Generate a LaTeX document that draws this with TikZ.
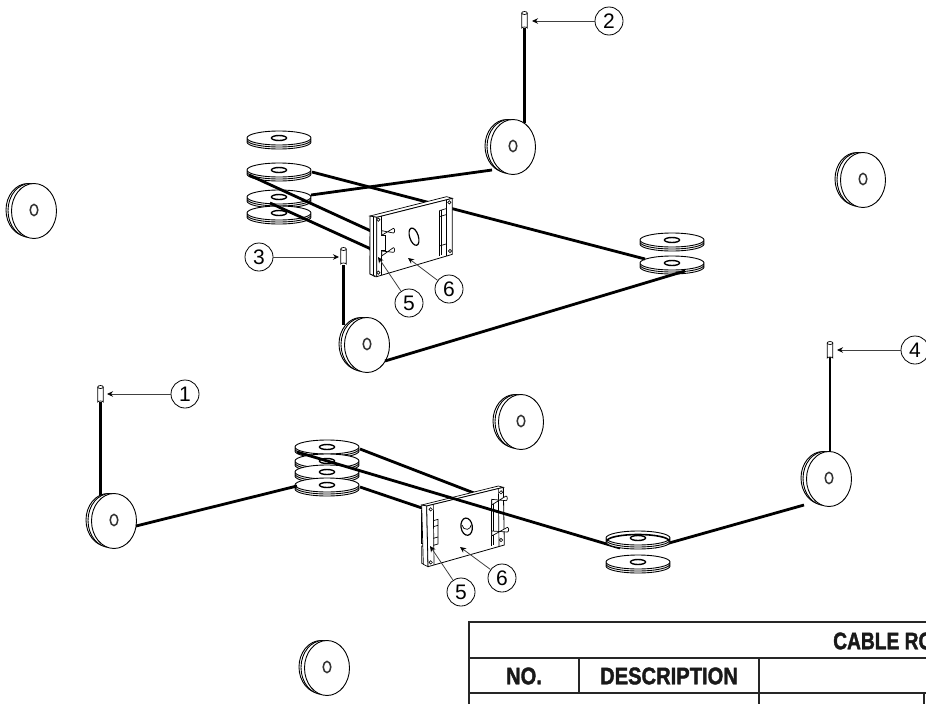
\documentclass[tikz,border=0pt]{standalone}
\usepackage{fontspec}
\usepackage{graphicx}
\setmainfont{Liberation Sans}
\newfontfamily\headfont[BoldFeatures={FakeBold=1.8}]{Liberation Sans}
\usetikzlibrary{arrows.meta}
\tikzset{
  thin line/.style={draw=black,line width=0.7pt},
  wheel/.style={draw=black,fill=white,line width=0.9pt},
  cable/.style={draw=black,line width=2.8pt},
  pincable/.style={draw=black,line width=2.3pt},
  callout/.style={circle,draw=black,line width=0.8pt,fill=white,minimum size=28pt,inner sep=0pt,font=\fontsize{21}{21}\selectfont},
  lead/.style={draw=black!75,line width=0.8pt,-{Stealth[length=6pt,width=5.5pt,black]}},
  tablerule/.style={draw=black!85,line width=1.6pt},
  headtext/.style={font=\headfont\fontsize{24}{24}\selectfont\bfseries,inner sep=0pt,text=black!90},
}
% vertical pulley seen from the front
\newcommand{\vpulley}[2]{%
  \begin{scope}[shift={(#1,#2)}]
    \draw[wheel] (-6,-1) ellipse [x radius=22,y radius=26.5];
    \draw[wheel] (-4,-0.5) ellipse [x radius=22,y radius=27];
    \draw[wheel] (0,0) ellipse [x radius=22.5,y radius=27.5];
    \draw[wheel,draw=black!80,line width=1.5pt] (0,-1) ellipse [x radius=3.8,y radius=5.6];
  \end{scope}}
% horizontal pulley lying flat
\newcommand{\hpulley}[2]{%
  \begin{scope}[shift={(#1,#2)}]
    \draw[wheel] (0,4) ellipse [x radius=32,y radius=7];
    \draw[wheel] (0,2) ellipse [x radius=32,y radius=7];
    \draw[wheel] (0,0) ellipse [x radius=32,y radius=7];
    \draw[wheel,line width=1.4pt] (0,0) ellipse [x radius=7.5,y radius=2.5];
  \end{scope}}
% cable end fitting
\newcommand{\cablepin}[2]{%
  \begin{scope}[shift={(#1,#2)}]
    \draw[wheel,line width=0.7pt] (-2.8,0) -- (-2.8,15) arc [start angle=180,end angle=360,x radius=2.8,y radius=1] -- (2.8,0);
    \draw[wheel,line width=0.7pt] (0,0) ellipse [x radius=2.8,y radius=1.5];
  \end{scope}}
\begin{document}
\begin{tikzpicture}[x=1pt,y=-1pt]
\useasboundingbox (0,0) rectangle (926,704);
\clip (0,0) rectangle (926,704);

% named cable end points
\coordinate (pinBtm2) at (524.5,28);   \coordinate (whl2top) at (524.5,123);
\coordinate (whl2out) at (492,170);    \coordinate (upRb) at (311,195);
\coordinate (upA) at (312,172);        \coordinate (upB) at (645,259);
\coordinate (upC) at (249,175);        \coordinate (upD) at (371,231);
\coordinate (upE) at (270,203);        \coordinate (upF) at (371,249);
\coordinate (pinBtm3) at (343.5,265);  \coordinate (whl3top) at (343.5,325);
\coordinate (whl3out) at (385,361);    \coordinate (rightOut) at (685,271);
\coordinate (pinBtm1) at (100.5,402);  \coordinate (whl1top) at (100.5,498);
\coordinate (whl1out) at (136,526);    \coordinate (stackIn) at (297,486);
\coordinate (loA) at (360,449);        \coordinate (loB) at (474,493);
\coordinate (loC) at (297,452);        \coordinate (loD) at (620,548);
\coordinate (loE) at (360,487);        \coordinate (loF) at (422,508);
\coordinate (flatOut) at (655,547);    \coordinate (whl4out) at (804,505);
\coordinate (pinBtm4) at (830,357);    \coordinate (whl4top) at (830,454);

% free pulleys
\vpulley{34}{211}
\vpulley{863}{180}
\vpulley{521}{422}
\vpulley{327}{668}

% ---------- upper assembly ----------
\draw[pincable] (pinBtm2) -- (whl2top);
\draw[pincable] (pinBtm3) -- (whl3top);
\hpulley{279}{138}
\hpulley{279}{170}
\hpulley{279}{197}
\hpulley{279}{213}
\hpulley{672}{240}
\hpulley{672}{263}
\vpulley{513}{147}
\vpulley{367}{345}
\draw[cable] (whl2out) -- (upRb);
\draw[cable] (upA) -- (upB);
\draw[cable] (upC) -- (upD);
\draw[cable] (upE) -- (upF);
\draw[cable] (whl3out) -- (rightOut);
\cablepin{524.5}{13}
\cablepin{343.5}{249}

% upper plate (drawn in enlarged units)
\begin{scope}[shift={(220,120)},scale=1/3]
  \draw[wheel,line width=0.7pt] (450,350) -- (465,345) -- (465,392) -- (450,392) -- cycle;
  \draw[wheel,line width=0.7pt] (450,408) -- (465,408) -- (465,470) -- (450,462) -- cycle;
  \draw[wheel,line width=0.7pt] (450,288) -- (680,230) -- (697,235) -- (470,292) -- cycle;
  \draw[wheel,line width=0.7pt] (450,288) -- (470,292) -- (470,470) -- (450,462) -- cycle;
  \draw[wheel,line width=0.8pt] (470,292) -- (697,235) -- (697,403) -- (470,470) -- cycle;
  \draw[thin line] (460,290) -- (460,466);
  \draw[thin line] (483,289) -- (483,465);
  \draw[thin line] (678,240) -- (678,408);
  % right bracket
  \draw[thin line] (658,272) -- (678,266);
  \draw[thin line] (658,272) -- (658,407);
  \draw[thin line] (664,271) -- (664,405);
  \draw[thin line] (658,290) -- (678,284);
  \draw[thin line] (658,378) -- (678,372);
  % studs
  \draw[wheel,line width=0.7pt] (483,345) -- (497,345) -- (497,392) -- (483,392);
  \draw[wheel,line width=0.7pt] (485,332) -- (520,339) arc [start angle=90,end angle=-90,x radius=4,y radius=7] -- (485,346) -- cycle;
  \draw[wheel,line width=0.7pt] (485,393) -- (520,397) arc [start angle=90,end angle=-90,x radius=4,y radius=7] -- (485,408) -- cycle;
  % holes
  \foreach \hx/\hy in {475/299,475/458,688/247,690/393}
    \draw[wheel,line width=0.6pt] (\hx,\hy) circle [radius=5];
  \draw[wheel,line width=1.2pt,rotate around={18:(582,350)}] (582,350) ellipse [x radius=13,y radius=27];
\end{scope}

% ---------- lower assembly ----------
\draw[pincable] (pinBtm1) -- (whl1top);
\draw[pincable] (pinBtm4) -- (whl4top);
\hpulley{327}{447}
\hpulley{327}{461}
\hpulley{327}{472}
\hpulley{327}{485}
\vpulley{114}{521}
\vpulley{829}{479}
\draw[cable] (whl1out) -- (stackIn);
\draw[cable] (flatOut) -- (whl4out);
\draw[cable] (loA) -- (loB);
\draw[cable] (loE) -- (loF);
\cablepin{100.5}{387}
\cablepin{830}{343}

% lower plate (drawn in enlarged units)
\begin{scope}[shift={(270,430)},scale=1/3]
  \draw[wheel,line width=0.7pt] (455,240) -- (468,240) -- (468,285) -- (455,285) -- cycle;
  \draw[wheel,line width=0.7pt] (455,290) -- (468,290) -- (468,340) -- (455,340) -- cycle;
  \draw[wheel,line width=0.7pt] (455,348) -- (468,348) -- (468,405) -- (455,400) -- cycle;
  \draw[wheel,line width=0.7pt] (455,225) -- (685,168) -- (700,172) -- (470,228) -- cycle;
  \draw[wheel,line width=0.7pt] (455,225) -- (470,228) -- (474,410) -- (460,403) -- cycle;
  \draw[wheel,line width=0.8pt] (470,228) -- (700,172) -- (703,345) -- (474,410) -- cycle;
  \draw[thin line] (490,224) -- (492,405);
  \draw[thin line] (685,176) -- (687,349);
  % middle bracket
  \draw[thin line] (490,272) -- (504,268) -- (504,342) -- (490,346);
  \draw[thin line] (490,290) -- (504,286);
  \draw[thin line] (490,325) -- (504,321);
  % right bracket and studs
  \draw[thin line] (665,210) -- (665,347);
  \draw[thin line] (670,210) -- (670,346);
  \draw[wheel,line width=0.7pt] (665,208) -- (708,212) arc [start angle=90,end angle=-90,x radius=4,y radius=7] -- (665,225) -- cycle;
  \draw[wheel,line width=0.7pt] (665,303) -- (712,306) arc [start angle=90,end angle=-90,x radius=4,y radius=7] -- (665,318) -- cycle;
  % holes
  \foreach \hx/\hy in {482/238,482/397,693/187,693/330}
    \draw[wheel,line width=0.6pt] (\hx,\hy) circle [radius=5];
  \draw[wheel,line width=1.2pt,rotate around={8:(590,290)}] (590,290) ellipse [x radius=17,y radius=26];
  \draw[thin line] (576,285) arc [start angle=170,end angle=10,x radius=14,y radius=16];
\end{scope}
\draw[cable] (loC) -- (loD);
\hpulley{638}{538}
\hpulley{638}{562}
\draw[black,line width=1.6pt] (607,541) arc [start angle=180,end angle=360,x radius=31,y radius=6.5];

% ---------- callouts ----------
\node[callout] (n2) at (609,21) {2};
\node[callout] (n3) at (259,257) {3};
\node[callout] (n1) at (185,394) {1};
\node[callout] (n4) at (915,350) {4};
\node[callout] (n5a) at (409,303) {5};
\node[callout] (n6a) at (449,289) {6};
\node[callout] (n5b) at (461,592) {5};
\node[callout] (n6b) at (502,578) {6};
\coordinate (t2) at (532,21);
\coordinate (t3) at (339,257);
\coordinate (t1) at (107,394);
\coordinate (t4) at (837,350);
\coordinate (t5a) at (378,257);
\coordinate (t6a) at (408,258);
\coordinate (t5b) at (430,546);
\coordinate (t6b) at (460,547);
\draw[lead] (n2) -- (t2);
\draw[lead] (n3) -- (t3);
\draw[lead] (n1) -- (t1);
\draw[lead] (n4) -- (t4);
\draw[lead] (n5a) -- (t5a);
\draw[lead] (n6a) -- (t6a);
\draw[lead] (n5b) -- (t5b);
\draw[lead] (n6b) -- (t6b);

% ---------- table ----------
\coordinate (tl) at (469,622);  \coordinate (tr) at (926,622);
\coordinate (ml) at (469,658);  \coordinate (mr) at (926,658);
\coordinate (bl) at (469,693);  \coordinate (br) at (926,693);
\coordinate (el) at (469,704);
\draw[tablerule] (el) -- (tl) -- (tr);
\draw[tablerule] (ml) -- (mr);
\draw[tablerule] (bl) -- (br);
\coordinate (v1a) at (579,658); \coordinate (v1b) at (579,693);
\coordinate (v2a) at (759,658); \coordinate (v2b) at (759,704);
\coordinate (v3a) at (924,693); \coordinate (v3b) at (924,704);
\draw[tablerule] (v1a) -- (v1b);
\draw[tablerule] (v2a) -- (v2b);
\draw[tablerule] (v3a) -- (v3b);
\node[headtext,anchor=west] (title) at (833,641) {\scalebox{0.8}[1]{CABLE RO}};
\node[headtext] (hno) at (524,676) {\scalebox{0.84}[1]{NO.}};
\node[headtext] (hdesc) at (669,676) {\scalebox{0.84}[1]{DESCRIPTION}};
\end{tikzpicture}
\end{document}
